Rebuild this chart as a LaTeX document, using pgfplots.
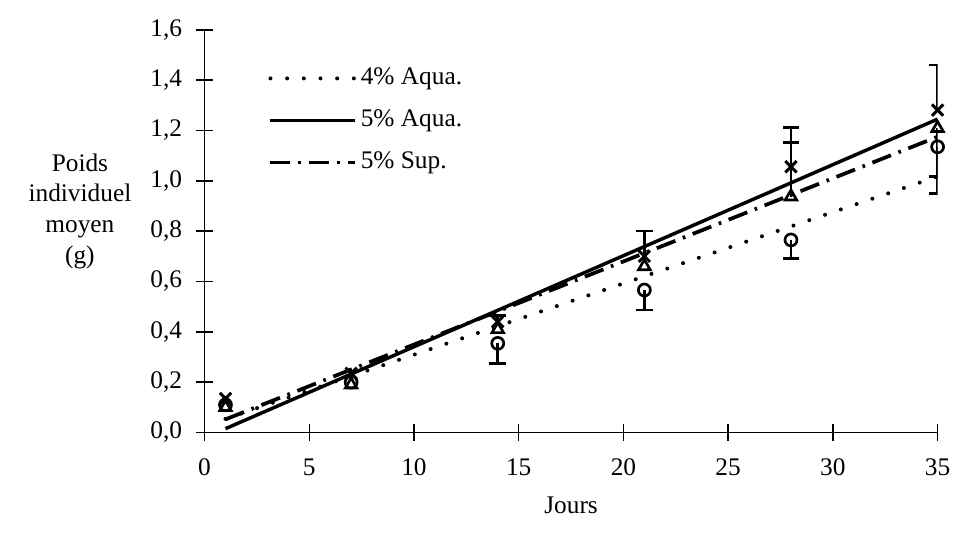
\documentclass[border=0pt]{standalone}
\usepackage{fontspec}
\setmainfont{Liberation Serif}
\usepackage{pgfplots}
\pgfplotsset{compat=1.18}
\tikzset{
  dotsty/.style={line width=3pt, line cap=round, dash pattern=on 0pt off 12.5pt},
  solsty/.style={line width=2.6pt},
  dashdotsty/.style={line width=2.8pt, dash pattern=on 15pt off 6pt on 2pt off 6pt},
}
\begin{document}
\fontsize{19}{23}\selectfont
\begin{tikzpicture}
\begin{axis}[
  name=ax,
  width=549.8pt, height=302pt, scale only axis,
  xmin=0, xmax=35, ymin=0, ymax=1.6,
  axis lines*=left,
  axis line style={line width=1.2pt},
  xtick={0,5,10,15,20,25,30,35},
  ytick={0,0.2,0.4,0.6,0.8,1.0,1.2,1.4,1.6},
  tick align=center, major tick length=12.5pt,
  tick style={line width=1.1pt, black},
  /pgf/number format/assume math mode=true,
  yticklabel style={/pgf/number format/use comma, /pgf/number format/fixed, /pgf/number format/fixed zerofill, /pgf/number format/precision=1, xshift=-4pt},
  tick label style={font=\fontsize{19}{23}\selectfont},
  xticklabel style={yshift=-7pt},
  xlabel={Jours},
  xlabel style={at={(axis description cs:0.5,-0.18)}, anchor=center, font=\fontsize{19}{23}\selectfont},
  ylabel={Poids\\individuel\\moyen\\(g)},
  ylabel style={at={(axis description cs:-0.17,0.55)}, anchor=center, rotate=-90, align=center, font=\fontsize{19}{23}\selectfont},
  legend style={at={(axis cs:2.85,1.24)}, anchor=west, draw=none, fill=none,
    font=\fontsize{19}{23}\selectfont, row sep=11pt, column sep=0pt,
    nodes={inner sep=2.5pt}},
  legend cell align=left,
  legend image code/.code={\draw[#1] (0pt,0pt) -- (63.75pt,0pt);},
]
% regression lines
\addplot[dotsty] coordinates {(1,0.054) (35,1.017)};
\addlegendentry{4\% Aqua.}
\addplot[solsty] coordinates {(1,0.015) (35,1.245)};
\addlegendentry{5\% Aqua.}
\addplot[dashdotsty] coordinates {(1,0.052) (35,1.175)};
\addlegendentry{5\% Sup.}

% 4% Aqua (circles), error bars downward
\addplot[forget plot, only marks, mark=o, mark size=4.5pt, line width=2pt, mark options={fill=white, solid},
  error bars/.cd, y dir=minus, y explicit,
  error bar style={line width=2pt, solid},
  error mark options={rotate=90, mark size=6.25pt, line width=2pt}]
  coordinates {(14,0.354) +- (0,0.079) (21,0.566) +- (0,0.079) (28,0.765) +- (0,0.075) (35,1.135) +- (0,0.185)};
\addplot[forget plot, only marks, mark=o, mark size=4.5pt, line width=2pt, mark options={fill=white, solid}]
  coordinates {(1,0.11) (7,0.20)};

% 5% Sup (triangles)
\addplot[forget plot, only marks, mark=triangle, mark size=5pt, line width=2pt, mark options={fill=white, solid},
  error bars/.cd, y dir=plus, y explicit,
  error bar style={line width=2pt, solid},
  error mark options={rotate=90, mark size=6.25pt, line width=2pt}]
  coordinates {(28,0.937) +- (0,0.214)};
\addplot[forget plot, only marks, mark=triangle, mark size=5pt, line width=2pt, mark options={fill=white, solid},
  error bars/.cd, y dir=minus, y explicit,
  error bar style={line width=2pt, solid},
  error mark options={rotate=90, mark size=6.25pt, line width=2pt}]
  coordinates {(35,1.209) +- (0,0.193)};
\addplot[forget plot, only marks, mark=triangle, mark size=5pt, line width=2pt, mark options={fill=white, solid}]
  coordinates {(1,0.10) (7,0.19) (14,0.41) (21,0.66)};

% 5% Aqua (crosses), error bars upward
\addplot[forget plot, only marks, mark=x, mark size=6pt, line width=2.2pt, mark options={solid},
  error bars/.cd, y dir=plus, y explicit,
  error bar style={line width=2pt, solid},
  error mark options={rotate=90, mark size=6.25pt, line width=2pt}]
  coordinates {(14,0.44) +- (0,0.025) (21,0.70) +- (0,0.10) (28,1.056) +- (0,0.157) (35,1.281) +- (0,0.179)};
\addplot[forget plot, only marks, mark=x, mark size=6pt, line width=2.2pt, mark options={solid}]
  coordinates {(1,0.135) (7,0.235)};
\end{axis}
\pgfresetboundingbox
\path[use as bounding box] (ax.south west) ++(-153.4pt,-81.4pt) rectangle ++(716.25pt,405.75pt);
\end{tikzpicture}
\end{document}
